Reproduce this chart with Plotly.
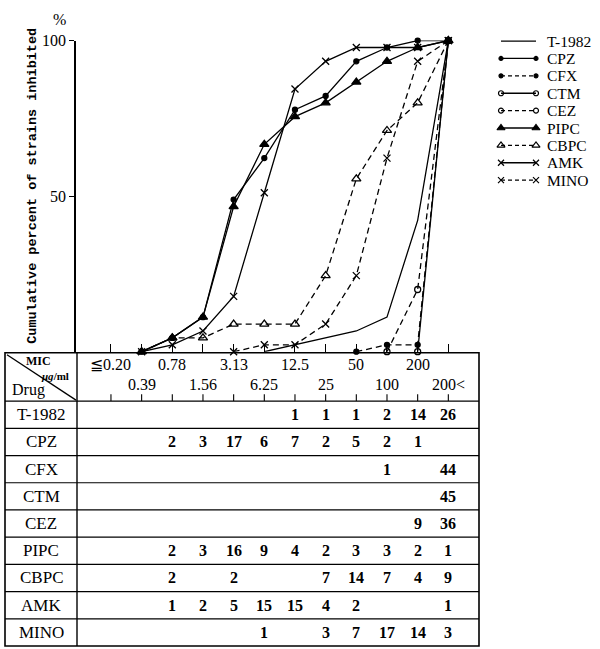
import numpy as np
import plotly.graph_objects as go

# ---------------- data ----------------
mic_labels = ["≦0.20", "0.39", "0.78", "1.56", "3.13", "6.25",
              "12.5", "25", "50", "100", "200", "200<"]
drugs = ["T-1982", "CPZ", "CFX", "CTM", "CEZ", "PIPC", "CBPC", "AMK", "MINO"]
t1982 = [0, 0, 0, 0, 0, 0, 1, 1, 1, 2, 14, 26]
cpz   = [0, 0, 2, 3, 17, 6, 7, 2, 5, 2, 1, 0]
cfx   = [0, 0, 0, 0, 0, 0, 0, 0, 0, 1, 0, 44]
ctm   = [0, 0, 0, 0, 0, 0, 0, 0, 0, 0, 0, 45]
cez   = [0, 0, 0, 0, 0, 0, 0, 0, 0, 0, 9, 36]
pipc  = [0, 0, 2, 3, 16, 9, 4, 2, 3, 3, 2, 1]
cbpc  = [0, 0, 2, 0, 2, 0, 0, 7, 14, 7, 4, 9]
amk   = [0, 0, 1, 2, 5, 15, 15, 4, 2, 0, 0, 1]
mino  = [0, 0, 0, 0, 0, 1, 0, 3, 7, 17, 14, 3]
counts = [t1982, cpz, cfx, ctm, cez, pipc, cbpc, amk, mino]

# ---------------- styles ----------------
styles = {
    "T-1982": dict(dash="solid", symbol=None, msize=0),
    "CPZ":  dict(dash="solid", symbol="circle", msize=5),
    "CFX":  dict(dash="6px,4px", symbol="circle", msize=5),
    "CTM":  dict(dash="solid", symbol="circle-open", msize=6),
    "CEZ":  dict(dash="6px,4px", symbol="circle-open", msize=6),
    "PIPC": dict(dash="solid", symbol="triangle-up", msize=8),
    "CBPC": dict(dash="6px,4px", symbol="triangle-up-open", msize=8),
    "AMK":  dict(dash="solid", symbol="x-thin-open", msize=7),
    "MINO": dict(dash="6px,4px", symbol="x-thin-open", msize=7),
}

W, H = 600, 649
def PX(x):
    return x / W
def PY(y):
    return 1 - y / H

SERIF = "Liberation Serif"
MONO = "Liberation Mono"

fig = go.Figure()
positions = np.arange(1, len(mic_labels) + 1)

for name, c in zip(drugs, counts):
    c = np.array(c)
    cum = np.cumsum(c) / c.sum() * 100
    first = int(np.nonzero(c)[0][0])
    k0 = max(first - 1, 0)
    st = styles[name]
    mode = "lines+markers" if st["symbol"] else "lines"
    fig.add_trace(go.Scatter(
        x=positions[k0:], y=cum[k0:], mode=mode, name=name,
        line=dict(color="black", width=1.3, dash=st["dash"]),
        marker=dict(symbol=st["symbol"] or "circle", size=st["msize"], color="black",
                    line=dict(color="black", width=1.3)),
        cliponaxis=False, showlegend=False, xaxis="x", yaxis="y"))

# ------------- hand-drawn legend (pixel axes) -------------
leg_x0, leg_x1, leg_text_x = 501, 536, 545
leg_y0, leg_dy = 33.5, 17.6
for r, name in enumerate(drugs):
    st = styles[name]
    yy = leg_y0 + r * leg_dy
    mode = "lines+markers" if st["symbol"] else "lines"
    fig.add_trace(go.Scatter(
        x=[leg_x0, leg_x1], y=[yy, yy], mode=mode,
        line=dict(color="black", width=1.3, dash=st["dash"].replace("6px,4px", "4px,3px")),
        marker=dict(symbol=st["symbol"] or "circle", size=max(st["msize"] - 1, 0),
                    color="black", line=dict(color="black", width=1.2)),
        cliponaxis=False, showlegend=False, xaxis="x2", yaxis="y2", hoverinfo="skip"))

annotations = []
for r, name in enumerate(drugs):
    annotations.append(dict(
        x=PX(leg_text_x), y=PY(leg_y0 + r * leg_dy), xref="paper", yref="paper",
        text=name, showarrow=False, xanchor="left", yanchor="middle",
        font=dict(family=SERIF, size=15.5, color="black")))

# ------------- axis texts -------------
annotations.append(dict(
    x=PX(33), y=PY(180), xref="paper", yref="paper", textangle=-90,
    text="<b>Cumulative percent of strains inhibited</b>", showarrow=False,
    xanchor="center", yanchor="middle",
    font=dict(family=MONO, size=13.5, color="black")))
annotations.append(dict(
    x=PX(59), y=PY(12), xref="paper", yref="paper", text="%", showarrow=False,
    xanchor="center", yanchor="middle", font=dict(family=SERIF, size=16, color="black")))

# ------------- table -------------
tab_l, tab_r, tab_top, tab_bot = 5, 479, 349, 646
div_x = 77
head_bot = 398
row_h = (tab_bot - head_bot) / len(drugs)

shapes = []
shapes.append(dict(type="rect", xref="paper", yref="paper",
                   x0=PX(tab_l), x1=PX(tab_r), y0=PY(tab_bot), y1=PY(tab_top),
                   line=dict(color="black", width=1.6)))
shapes.append(dict(type="line", xref="paper", yref="paper",
                   x0=PX(div_x), x1=PX(div_x), y0=PY(tab_bot), y1=PY(tab_top),
                   line=dict(color="black", width=1.4)))
for r in range(len(drugs)):
    yy = head_bot + r * row_h
    shapes.append(dict(type="line", xref="paper", yref="paper",
                       x0=PX(tab_l), x1=PX(tab_r), y0=PY(yy), y1=PY(yy),
                       line=dict(color="black", width=1.2)))
# diagonal in header
shapes.append(dict(type="line", xref="paper", yref="paper",
                   x0=PX(7), y0=PY(351), x1=PX(76), y1=PY(397),
                   line=dict(color="black", width=1.3)))
# header ticks
for p in positions:
    shapes.append(dict(type="line", xref="x", yref="paper",
                       x0=p, x1=p, y0=PY(head_bot), y1=PY(head_bot - 7),
                       line=dict(color="black", width=1.1)))

# header labels
for k, lab in enumerate(mic_labels):
    yy = 361 if k % 2 == 0 else 381
    annotations.append(dict(
        x=positions[k], y=PY(yy), xref="x", yref="paper", text=lab, showarrow=False,
        xanchor="center", yanchor="middle", font=dict(family=SERIF, size=16, color="black")))
annotations.append(dict(x=PX(38), y=PY(357), xref="paper", yref="paper", text="<b>MIC</b>",
                        showarrow=False, xanchor="center", yanchor="middle",
                        font=dict(family=SERIF, size=12, color="black")))
annotations.append(dict(x=PX(55), y=PY(373), xref="paper", yref="paper",
                        text="<b><i>μg</i>/ml</b>", showarrow=False,
                        xanchor="center", yanchor="middle",
                        font=dict(family=SERIF, size=11, color="black")))
annotations.append(dict(x=PX(28), y=PY(387), xref="paper", yref="paper", text="Drug",
                        showarrow=False, xanchor="center", yanchor="middle",
                        font=dict(family=SERIF, size=16, color="black")))

# rows
for r, (name, c) in enumerate(zip(drugs, counts)):
    yc = head_bot + (r + 0.5) * row_h
    annotations.append(dict(x=PX((tab_l + div_x) / 2), y=PY(yc), xref="paper", yref="paper",
                            text=name, showarrow=False, xanchor="center", yanchor="middle",
                            font=dict(family=SERIF, size=17, color="black")))
    for k, v in enumerate(c):
        if v > 0:
            annotations.append(dict(x=positions[k], y=PY(yc), xref="x", yref="paper",
                                    text=f"<b>{v}</b>", showarrow=False,
                                    xanchor="center", yanchor="middle",
                                    font=dict(family=SERIF, size=16, color="black")))

# ------------- layout -------------
plot_left, plot_right, plot_top, plot_bot = 76, 479, 33, 348
fig.update_layout(
    width=W, height=H, margin=dict(l=0, r=0, t=0, b=0),
    paper_bgcolor="white", plot_bgcolor="rgba(0,0,0,0)",
    xaxis=dict(domain=[PX(plot_left), PX(plot_right)], range=[-0.14, 13.0],
               showline=False, showgrid=False, zeroline=False,
               tickvals=list(positions), ticks="inside", ticklen=8, tickwidth=1.1,
               tickcolor="black", showticklabels=False, fixedrange=True),
    yaxis=dict(domain=[PY(plot_bot), PY(plot_top)], range=[0, 100],
               showline=True, linecolor="black", linewidth=1.5,
               showgrid=False, zeroline=False,
               tickvals=[50, 100], ticktext=["50", "100"], ticks="outside",
               ticklen=5, tickwidth=1.3, tickcolor="black",
               tickfont=dict(family=SERIF, size=16, color="black"), fixedrange=True),
    xaxis2=dict(domain=[0, 1], range=[0, W], visible=False, anchor="y2", fixedrange=True),
    yaxis2=dict(domain=[0, 1], range=[H, 0], visible=False, anchor="x2", fixedrange=True),
    shapes=shapes, annotations=annotations, showlegend=False,
)

fig.write_html("out.html", config={"displayModeBar": False},
               post_script="document.body.style.margin='0';document.body.style.overflow='hidden';")
